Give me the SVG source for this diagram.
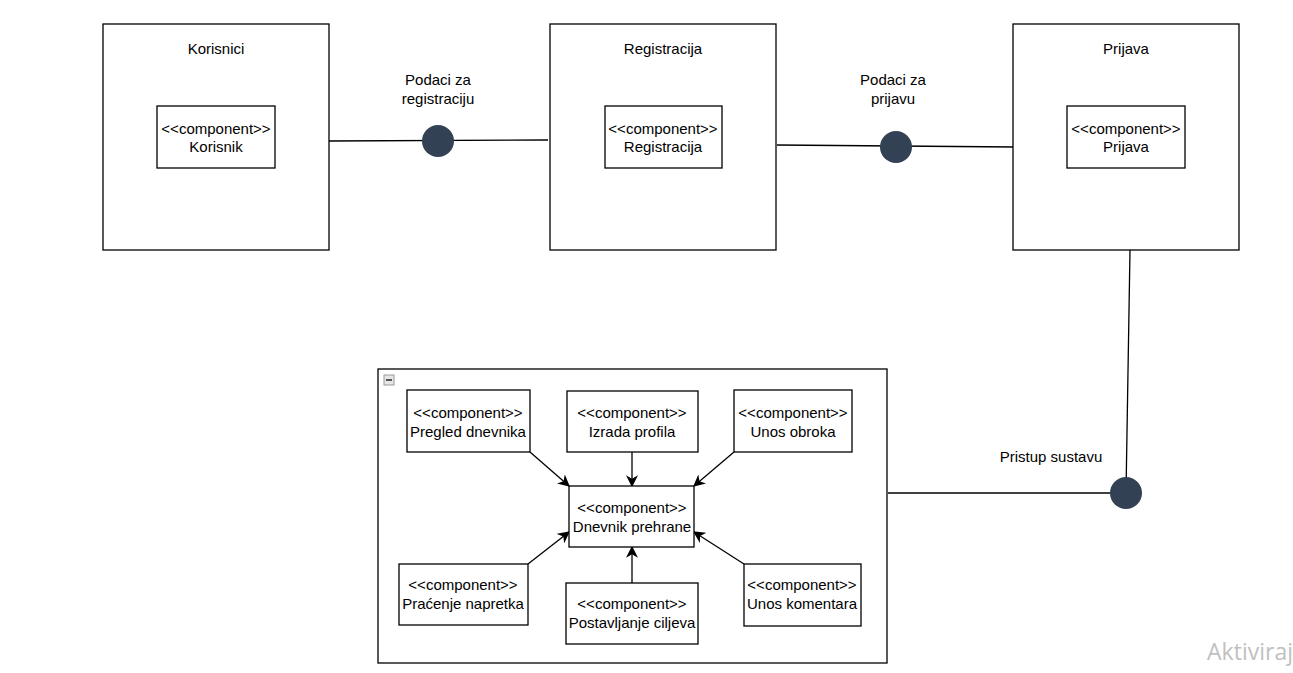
<svg xmlns="http://www.w3.org/2000/svg" width="1293" height="673" viewBox="0 0 1293 673">
<style>
.box{fill:#fff;stroke:#000;stroke-width:1.3}
.t{font-family:"Liberation Sans",Arial,sans-serif;font-size:15px;fill:#000;text-anchor:middle}
.ln{fill:none;stroke:#000;stroke-width:1.3}
.ball{fill:#334155}
</style>
<defs>
<marker id="arr" viewBox="0 0 10 10" refX="9" refY="5" markerWidth="12" markerHeight="12" markerUnits="userSpaceOnUse" orient="auto">
<path d="M0,0 L10,5 L0,10 L3,5 Z" fill="#000"/>
</marker>
</defs>
<rect width="1293" height="673" fill="#fff"/>
<g id="container">
<rect class="box" x="378" y="369" width="509" height="294"/>
<rect x="384" y="375" width="10" height="10" fill="#e6e6e6" stroke="#999" stroke-width="1"/>
<rect x="386" y="379" width="6" height="2" fill="#555"/>
</g>
<g id="connectors">
<path class="ln" d="M329,141 L548,140"/>
<path class="ln" d="M777,145 L1015,147"/>
<path class="ln" d="M1130,250 L1126,493"/>
<path class="ln" d="M888,493 L1126,493"/>
<circle class="ball" cx="438" cy="141" r="16"/>
<circle class="ball" cx="896" cy="147" r="16"/>
<circle class="ball" cx="1126" cy="493" r="16"/>
<path class="ln" d="M530,452 L569,486" marker-end="url(#arr)"/>
<path class="ln" d="M632,452 L632,486" marker-end="url(#arr)"/>
<path class="ln" d="M734,452 L694,486" marker-end="url(#arr)"/>
<path class="ln" d="M528,564 L569,532" marker-end="url(#arr)"/>
<path class="ln" d="M632,583 L632,547" marker-end="url(#arr)"/>
<path class="ln" d="M744,564 L694,532" marker-end="url(#arr)"/>
</g>
<g id="lbl-reg"><text class="t" x="438" y="85">Podaci za</text><text class="t" x="438" y="104">registraciju</text></g>
<g id="lbl-prij"><text class="t" x="893" y="85">Podaci za</text><text class="t" x="893" y="104">prijavu</text></g>
<g id="lbl-pristup"><text class="t" x="1051" y="462">Pristup sustavu</text></g>
<g id="korisnici">
<rect class="box" x="103" y="24" width="226" height="226"/>
<text class="t" x="216" y="54">Korisnici</text>
<rect class="box" x="157" y="106" width="118" height="62"/>
<text class="t" x="216" y="134">&lt;&lt;component&gt;&gt;</text>
<text class="t" x="216" y="152">Korisnik</text>
</g>
<g id="registracija">
<rect class="box" x="550" y="24" width="226" height="226"/>
<text class="t" x="663" y="54">Registracija</text>
<rect class="box" x="605" y="106" width="117" height="62"/>
<text class="t" x="663" y="134">&lt;&lt;component&gt;&gt;</text>
<text class="t" x="663" y="152">Registracija</text>
</g>
<g id="prijava">
<rect class="box" x="1013" y="24" width="226" height="226"/>
<text class="t" x="1126" y="54">Prijava</text>
<rect class="box" x="1067" y="106" width="118" height="62"/>
<text class="t" x="1126" y="134">&lt;&lt;component&gt;&gt;</text>
<text class="t" x="1126" y="152">Prijava</text>
</g>
<g id="pregled">
<rect class="box" x="407" y="390" width="123" height="62"/>
<text class="t" x="468" y="418">&lt;&lt;component&gt;&gt;</text>
<text class="t" x="468" y="437">Pregled dnevnika</text>
</g>
<g id="izrada">
<rect class="box" x="567" y="391" width="131" height="61"/>
<text class="t" x="632" y="418">&lt;&lt;component&gt;&gt;</text>
<text class="t" x="632" y="437">Izrada profila</text>
</g>
<g id="obrok">
<rect class="box" x="734" y="390" width="118" height="62"/>
<text class="t" x="793" y="418">&lt;&lt;component&gt;&gt;</text>
<text class="t" x="793" y="437">Unos obroka</text>
</g>
<g id="dnevnik">
<rect class="box" x="569" y="486" width="125" height="61"/>
<text class="t" x="632" y="513">&lt;&lt;component&gt;&gt;</text>
<text class="t" x="632" y="532">Dnevnik prehrane</text>
</g>
<g id="pracenje">
<rect class="box" x="399" y="564" width="129" height="61"/>
<text class="t" x="463" y="590">&lt;&lt;component&gt;&gt;</text>
<text class="t" x="463" y="609">Praćenje napretka</text>
</g>
<g id="ciljevi">
<rect class="box" x="566" y="583" width="132" height="61"/>
<text class="t" x="632" y="609">&lt;&lt;component&gt;&gt;</text>
<text class="t" x="632" y="628">Postavljanje ciljeva</text>
</g>
<g id="komentar">
<rect class="box" x="744" y="564" width="117" height="62"/>
<text class="t" x="802" y="590">&lt;&lt;component&gt;&gt;</text>
<text class="t" x="802" y="609">Unos komentara</text>
</g>
<text x="1293" y="660" font-family="'Open Sans','Noto Sans',sans-serif" font-size="23" fill="#c0c0c0" text-anchor="end">Aktiviraj</text>
</svg>
